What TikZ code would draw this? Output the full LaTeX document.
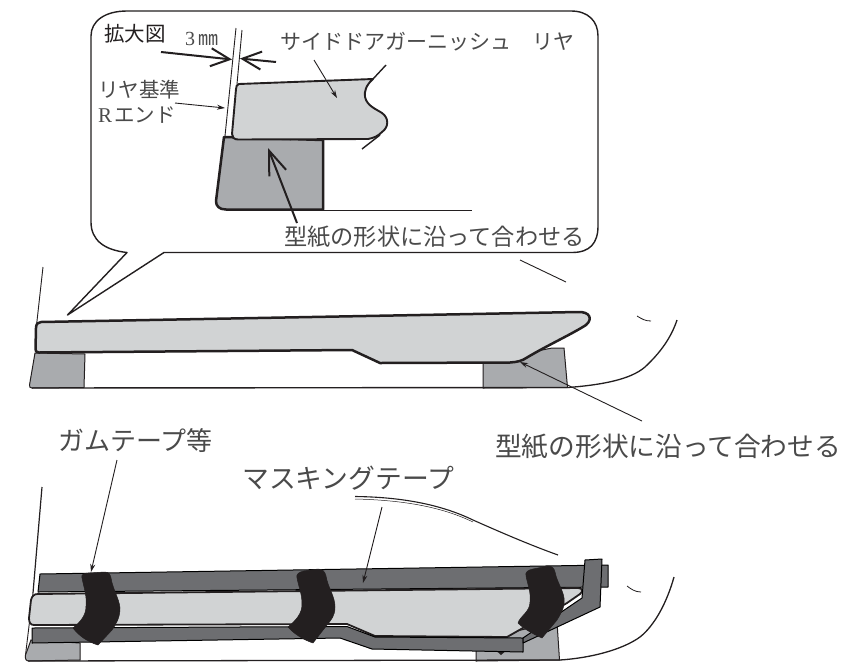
\documentclass[tikz,border=0pt]{standalone}
\usepackage{fontspec}
\setmainfont{Liberation Serif}
\newfontfamily\cjk{Noto Sans CJK JP}
\usetikzlibrary{arrows.meta}
\definecolor{garnish}{HTML}{D1D3D4}
\definecolor{template}{HTML}{A9ABAE}
\definecolor{tapegrey}{HTML}{6D6E71}
\definecolor{tapeblack}{HTML}{231F20}
\definecolor{labelgrey}{HTML}{4A4A4A}
\tikzset{
  x=1pt,y=-1pt,
  thinline/.style={draw=tapeblack,line width=0.9pt},
  medline/.style={draw=tapeblack,line width=1.4pt,line join=round},
  heavyline/.style={draw=tapeblack,line width=2.5pt,line join=round},
  garnishshape/.style={heavyline,fill=garnish},
  templateshape/.style={draw=tapeblack,line width=1pt,line join=round,fill=template},
  tapeshape/.style={draw=black,line width=1pt,line join=round,fill=tapegrey},
  gumshape/.style={fill=tapeblack,draw=tapeblack,line width=0.5pt,line join=round},
  leader/.style={draw=tapeblack,line width=0.9pt,-{Stealth[length=8pt,width=5pt]}},
  leaderopen/.style={draw=tapeblack,line width=2pt,-{Straight Barb[length=19pt,width=18pt,line width=2pt]}},
  txt/.style={inner sep=0pt,anchor=west,text=labelgrey}
}
\newcommand{\lbl}[2]{{\fontsize{#1}{#1}\selectfont\cjk #2}}
\begin{document}
\begin{tikzpicture}
\useasboundingbox (0,0) rectangle (842,664);
\fill[white] (0,0) rectangle (842,664);

% ---- callout
\draw[medline,fill=white] (127,11) -- (571,11)
  .. controls (588,11) and (598,21) .. (598,36)
  -- (598,226)
  .. controls (598,243) and (590,252.5) .. (572,252.5)
  -- (164,252.5) -- (67.5,315) -- (127,252.5)
  .. controls (104,250) and (91,240) .. (91,222)
  -- (91,36)
  .. controls (91,21) and (105,11) .. (127,11) -- cycle;

% reference lines
\draw[thinline] (236,28) -- (225,136);
\draw[thinline] (242,30) -- (237,84);

% template in callout
\draw[heavyline,fill=template] (224,137) -- (323,140) -- (323,209.5) -- (226,209.5)
  .. controls (219,209.5) and (216,206) .. (216,201) -- cycle;
\draw[thinline] (323,210) -- (472,210);

% garnish in callout
\draw[garnishshape,line width=1.9pt] (239,84) -- (373,79)
  .. controls (366,85) and (364,92) .. (365,97)
  .. controls (367,106) and (376,109) .. (382,113)
  .. controls (389,118) and (389,127) .. (382,132)
  .. controls (378,136) and (374,138) .. (368,139)
  -- (238,139.5) .. controls (234,139.5) and (232,137) .. (232,134)
  -- (236,89) .. controls (236,86) and (237,84.5) .. (239,84) -- cycle;
\draw[medline] (373,79) -- (386,65);
\draw[medline] (380,135) -- (362,149);

% callout arrows
\coordinate (dimAs) at (161,52); \coordinate (dimAe) at (232,59.5);
\coordinate (dimBs) at (276,62); \coordinate (dimBe) at (240,58.5);
\draw[leaderopen] (dimAs) -- (dimAe);
\draw[leaderopen] (dimBs) -- (dimBe);
\coordinate (gs) at (314,60); \coordinate (ge) at (337,98);
\draw[leader] (gs) -- (ge);
\coordinate (rs) at (175,103); \coordinate (re) at (225,108);
\draw[leader] (rs) -- (re);
\coordinate (us) at (297,223); \coordinate (ue) at (268,148);
\draw[draw=tapeblack,line width=2pt,-{Straight Barb[length=24pt,width=18pt,line width=2pt]}] (us) -- (ue);

% callout texts
\node[txt,text=tapeblack] (kakudai) at (104,34) {\lbl{20.5}{拡大図}};
\node[txt] (three) at (185,39) {\fontsize{20}{20}\selectfont 3\hspace{3pt}\lbl{20}{㎜}};
\node[txt] (sideg) at (280,42) {\lbl{21}{サイドドアガーニッシュ　リヤ}};
\node[txt] (riya) at (98,90) {\lbl{20.5}{リヤ基準}};
\node[txt] (rend) at (98,115) {\fontsize{21}{21}\selectfont R\hspace{2pt}\lbl{20.5}{エンド}};
\node[txt] (katab) at (284,237) {\lbl{23.2}{型紙の形状に沿って合わせる}};

% ---- middle figure
\draw[thinline] (43,267) -- (36,330);
\draw[templateshape] (35,353) -- (85,354) -- (84,387.5) -- (32,388) .. controls (30,388) and (29.5,387) .. (29.5,385) -- cycle;
\draw[templateshape] (483,362) -- (483,388) -- (567.5,387.5) -- (564,348) -- (552,348) -- cycle;
\draw[draw=tapeblack,line width=1.4pt] (32,388) -- (568,387.5);
\draw[garnishshape] (41,322) -- (420,315) -- (578,312)
  .. controls (590,311.5) and (593,319) .. (586,325)
  .. controls (572,334) and (548,345) .. (527,357.5)
  .. controls (522,361) and (517,362) .. (510,362.5)
  -- (380,363) -- (352,350) -- (39,352.5)
  .. controls (36,352.5) and (35.5,351) .. (35.5,349)
  -- (36,328) .. controls (36,324) and (38,322) .. (41,322) -- cycle;
\draw[draw=tapeblack,line width=1.3pt] (568,387.5)
  .. controls (600,385) and (630,380) .. (645,367)
  .. controls (660,353) and (671,338) .. (677,320);
\draw[draw=tapeblack,line width=0.8pt] (637,316) .. controls (642,319) and (645,321) .. (651,321);
\draw[thinline] (520,260) -- (566,282);
\coordinate (ks) at (642,421); \coordinate (ke) at (520,362);
\draw[leader] (ks) -- (ke);
\node[txt] (katam) at (495,447) {\lbl{26.7}{型紙の形状に沿って合わせる}};
\node[txt] (gum) at (58,441) {\lbl{26}{ガムテープ等}};
\node[txt] (mask) at (242,478) {\lbl{26.8}{マスキングテープ}};

% ---- lower figure
\draw[draw=tapeblack,line width=1.2pt] (42,487) -- (33,593);
\draw[thinline] (33,593) -- (25.5,655);
\draw[draw=tapeblack,line width=1pt,fill=template] (31,640) -- (80,643) -- (80,660) -- (29,661)
  .. controls (26,661) and (25,659) .. (25.5,655) -- cycle;
\draw[draw=tapeblack,line width=1pt,fill=template] (476,640) -- (476,661) -- (559.5,660) -- (557,622) -- cycle;
\draw[draw=tapeblack,line width=1.3pt] (28,661) -- (560,660);
\draw[draw=tapeblack,line width=1.3pt] (560,660)
  .. controls (590,658) and (622,650) .. (640,637)
  .. controls (655,625) and (667,602) .. (674,577);
\draw[draw=tapeblack,line width=0.8pt] (627,586) .. controls (631,589) and (635,592) .. (641,592);

% upper masking tape
\draw[tapeshape] (40,574) -- (608,565) -- (608,587) -- (38,592) -- cycle;
% garnish
\draw[garnishshape,line width=1.8pt] (38,594) -- (578,588)
  .. controls (583,588) and (583,592) .. (580,594)
  -- (567,603) -- (507,637) -- (375,636) -- (347,624) -- (34,625)
  .. controls (30,625) and (29,622) .. (29,618)
  -- (31,600) .. controls (32,596) and (34,594) .. (38,594) -- cycle;
% small arrow tip under the tape
\fill[tapeblack] (497,651) -- (508,649) -- (501,655) -- cycle;
% lower masking tape
\draw[tapeshape] (32,628) -- (340,626.5) -- (347,626.5) -- (375,637) -- (523,638) -- (523,652) -- (372,649) -- (340,638) -- (32,643) -- cycle;
\draw[tapeshape] (585,560) -- (602,559) -- (600,607) -- (523,643) -- (523,638) -- (582,598) -- cycle;
% tape curl
\draw[draw=tapeblack,line width=1.1pt] (355,496.5) .. controls (400,497) and (440,504) .. (473,520) .. controls (500,532) and (530,545) .. (558,555);
\draw[draw=tapeblack,line width=0.5pt] (355,499) .. controls (400,500) and (440,506) .. (473,522);

% gum tapes
\fill[gumshape] (82,578) .. controls (81,574) and (84,573) .. (90,573)
  -- (104,572) .. controls (109,572) and (110,574) .. (111,578)
  .. controls (113,590) and (119,598) .. (120,608)
  .. controls (120,618) and (116,624) .. (112,630)
  -- (98,645) .. controls (88,642) and (79,636) .. (73,628)
  .. controls (80,622) and (86,616) .. (86,606)
  .. controls (87,596) and (84,588) .. (82,578) -- cycle;
\fill[gumshape] (297,578) .. controls (296,574) and (299,572) .. (304,571)
  -- (318,569) .. controls (323,569) and (325,572) .. (326,576)
  .. controls (328,588) and (335,596) .. (335,607)
  .. controls (335,616) and (331,620) .. (327,625)
  -- (313,643) .. controls (304,640) and (294,634) .. (288,627)
  .. controls (296,620) and (302,614) .. (302,604)
  .. controls (302,594) and (299,588) .. (297,578) -- cycle;
\fill[gumshape] (526,576) .. controls (525,572) and (528,570) .. (533,569)
  -- (548,566) .. controls (552,566) and (554,568) .. (555,572)
  .. controls (557,582) and (563,590) .. (564,598)
  .. controls (565,608) and (561,613) .. (557,620)
  -- (542,638) .. controls (533,634) and (524,629) .. (518,623)
  .. controls (520,616) and (530,612) .. (530,602)
  .. controls (531,592) and (528,586) .. (526,576) -- cycle;

% lower leaders
\coordinate (gums) at (117,460); \coordinate (gume) at (91,572);
\draw[leader] (gums) -- (gume);
\coordinate (masks) at (382,507); \coordinate (maske) at (363,583);
\draw[leader] (masks) -- (maske);
\end{tikzpicture}
\end{document}
